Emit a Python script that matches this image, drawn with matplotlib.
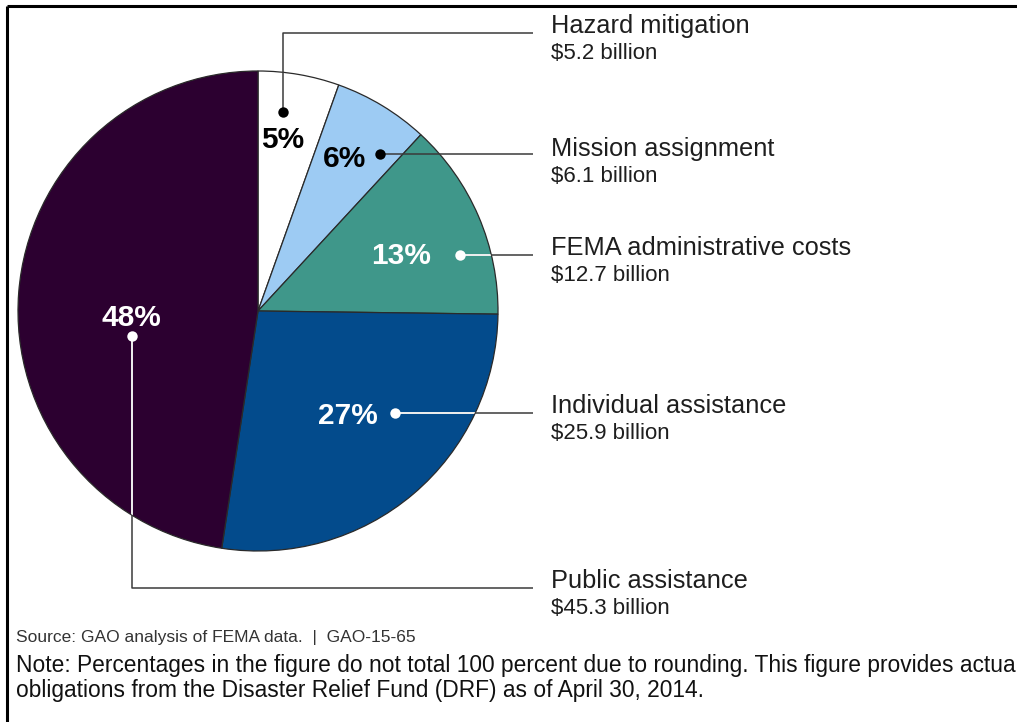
import matplotlib
matplotlib.use("Agg")
import matplotlib.pyplot as plt
from matplotlib.patches import Circle

plt.rcParams['font.family'] = ['Liberation Sans', 'DejaVu Sans']

# ---- data ----
categories = ["Hazard mitigation", "Mission assignment", "FEMA administrative costs",
              "Individual assistance", "Public assistance"]
values = [5.2, 6.1, 12.7, 25.9, 45.3]          # $ billion
pct_labels = ["5%", "6%", "13%", "27%", "48%"]
amount_labels = ["$5.2 billion", "$6.1 billion", "$12.7 billion",
                 "$25.9 billion", "$45.3 billion"]
colors = ["#ffffff", "#9dcbf3", "#3f978a", "#034b8c", "#2c0030"]
pct_colors = ["#000000", "#000000", "#ffffff", "#ffffff", "#ffffff"]

W, H = 1017, 722
fig = plt.figure(figsize=(W / 100, H / 100), dpi=100)
ax = fig.add_axes([0, 0, 1, 1])

def Y(y):
    return H - y

cx, cy, R = 258, Y(311), 240
wedges, _ = ax.pie(values, colors=colors, startangle=90, counterclock=False,
                   center=(cx, cy), radius=R, frame=True,
                   wedgeprops=dict(edgecolor="#2a2a2a", linewidth=0.9))
ax.set_xlim(0, W)
ax.set_ylim(0, H)
ax.set_aspect('equal')
ax.axis('off')

# layout: (pct text pos, dot pos, leader path, label baseline y)
layout = [
    dict(txt=(283, 140), dot=(283, 112), path=[(283, 112), (283, 33), (533, 33)], ty=33),
    dict(txt=(344, 159), dot=(380, 154), path=[(380, 154), (533, 154)], ty=156),
    dict(txt=(401, 256), dot=(460, 255), path=[(460, 255), (533, 255)], ty=255),
    dict(txt=(348, 416), dot=(395, 413), path=[(395, 413), (533, 413)], ty=413),
    dict(txt=(131, 318), dot=(132, 336), path=[(132, 336), (132, 588), (533, 588)], ty=588),
]

for i, L in enumerate(layout):
    xs = [p[0] for p in L['path']]
    ys = [Y(p[1]) for p in L['path']]
    ax.plot(xs, ys, color="#3a3a3a", lw=1.1, solid_capstyle='butt', zorder=3)
    if pct_colors[i] == "#ffffff":
        ln, = ax.plot(xs, ys, color="#ffffff", lw=1.3, solid_capstyle='butt', zorder=4)
        ln.set_clip_path(Circle((cx, cy), R - 0.5, transform=ax.transData))
    ax.plot(L['dot'][0], Y(L['dot'][1]), 'o', ms=7.5, color=pct_colors[i],
            mec='none', zorder=5)
    ax.text(L['txt'][0], Y(L['txt'][1]), pct_labels[i], color=pct_colors[i],
            fontsize=21.5, fontweight='bold', ha='center', va='center', zorder=6)
    ax.text(551, Y(L['ty']), categories[i], fontsize=18.3, color="#1e1e1e",
            ha='left', va='baseline')
    ax.text(551, Y(L['ty'] + 26), amount_labels[i], fontsize=16, color="#1e1e1e",
            ha='left', va='baseline')

ax.text(16, Y(642), "Source: GAO analysis of FEMA data.  |  GAO-15-65",
        fontsize=12.5, color="#333333", ha='left', va='baseline')
ax.text(16, Y(672), "Note: Percentages in the figure do not total 100 percent due to "
        "rounding. This figure provides actual", fontsize=16.4, color="#111111",
        ha='left', va='baseline', clip_on=True)
ax.text(16, Y(697), "obligations from the Disaster Relief Fund (DRF) as of April 30, 2014.",
        fontsize=16.4, color="#111111", ha='left', va='baseline')

# frame lines (top and left)
ax.plot([7, W], [Y(6), Y(6)], color="black", lw=2.2, solid_capstyle='butt')
ax.plot([7, 7], [Y(6), 0], color="black", lw=2.2, solid_capstyle='butt')

fig.savefig("out.png", dpi=100, facecolor="white")
